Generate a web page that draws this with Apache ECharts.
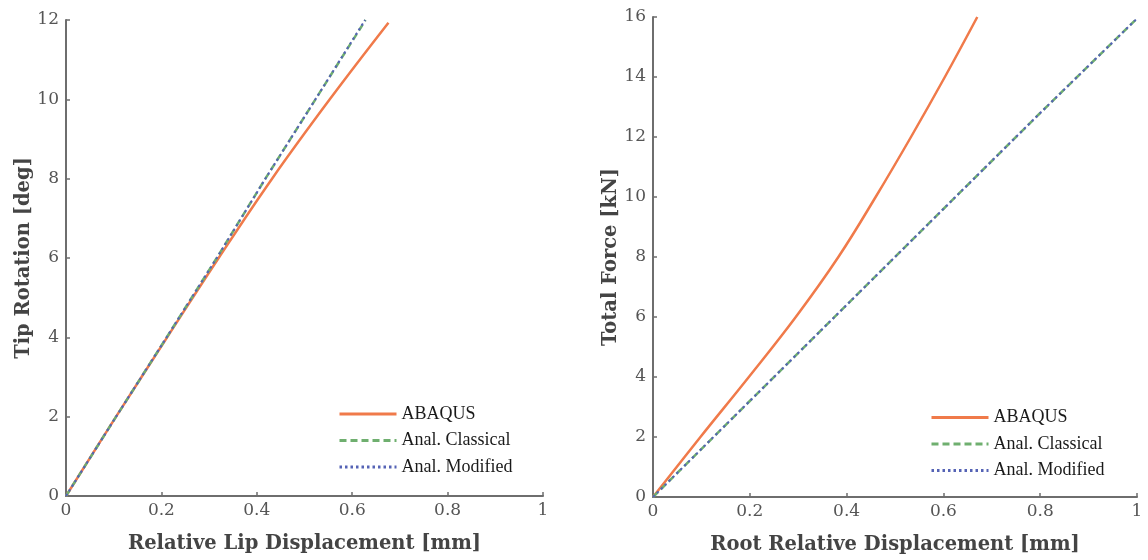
<!DOCTYPE html>
<html>
<head>
<meta charset="utf-8">
<script src="https://cdn.jsdelivr.net/npm/echarts@6/dist/echarts.min.js"></script>
<style>
  html, body { margin: 0; padding: 0; background: #fff; }
  #chart { width: 1148px; height: 560px; }
</style>
</head>
<body>
<div id="chart"></div>
<script>
// ---- Data ----
const seriesNames = ['ABAQUS', 'Anal. Classical', 'Anal. Modified'];

// Left panel: Tip Rotation [deg] vs Relative Lip Displacement [mm]
const lipAbaqusX    = [0, 0.105, 0.212, 0.320, 0.432, 0.553, 0.676];
const lipAbaqusY    = [0, 2, 4, 6, 8, 10, 11.93];
const lipClassicalX = [0, 0.105, 0.211, 0.316, 0.418, 0.523, 0.628];
const lipClassicalY = [0, 2, 4, 6, 8, 10, 12];
const lipModifiedX  = [0, 0.105, 0.211, 0.316, 0.418, 0.523, 0.627];
const lipModifiedY  = [0, 2, 4, 6, 8, 10, 12];

// Right panel: Total Force [kN] vs Root Relative Displacement [mm]
const rootAbaqusX    = [0, 0.098, 0.198, 0.295, 0.383, 0.460, 0.533, 0.603, 0.670];
const rootAbaqusY    = [0, 2, 4, 6, 8, 10, 12, 14, 16];
const rootClassicalX = [0, 0.2, 0.4, 0.6, 0.8, 1.0];
const rootClassicalY = [0, 3.2, 6.4, 9.6, 12.8, 15.95];
const rootModifiedX  = [0, 0.2, 0.4, 0.6, 0.8, 1.0];
const rootModifiedY  = [0, 3.2, 6.4, 9.6, 12.8, 15.95];

const xTitles = ['Relative Lip Displacement [mm]', 'Root Relative Displacement [mm]'];
const yTitles = ['Tip Rotation [deg]', 'Total Force [kN]'];
const yMax = [12, 16];

function pairs(xs, ys) { return xs.map((x, i) => [x, ys[i]]); }

const colors = { abaqus: '#F07A4A', classical: '#6FAF6F', modified: '#5563B5' };
const tickFont = { fontFamily: 'DejaVu Serif', fontSize: 17, color: '#555' };
const titleFont = { fontFamily: 'DejaVu Serif', fontSize: 19.5, fontWeight: 'bold', color: '#444' };
const axisLine = { show: true, lineStyle: { color: '#6e6e6e', width: 2 } };
const axisTick = { show: true, inside: true, length: 4, lineStyle: { color: '#6e6e6e', width: 1.5 } };

function xAxis(i) {
  return {
    type: 'value', gridIndex: i, min: 0, max: 1, interval: 0.2,
    axisLine, axisTick, splitLine: { show: false },
    axisLabel: Object.assign({ margin: 6 }, tickFont),
    name: xTitles[i], nameLocation: 'middle', nameGap: 38, nameTextStyle: titleFont
  };
}
function yAxis(i) {
  return {
    type: 'value', gridIndex: i, min: 0, max: yMax[i], interval: 2,
    axisLine, axisTick, splitLine: { show: false },
    axisLabel: Object.assign({ margin: 7 }, tickFont),
    name: yTitles[i], nameLocation: 'middle', nameGap: 32, nameRotate: 90, nameTextStyle: titleFont
  };
}
function lineSeries(name, data, idx, color, type, width, smooth) {
  return {
    name, type: 'line', xAxisIndex: idx, yAxisIndex: idx, data,
    symbol: 'none', smooth: smooth,
    lineStyle: { color, width, type },
    itemStyle: { color }, z: 2
  };
}

const legendCommon = {
  orient: 'vertical', itemWidth: 57, itemHeight: 14, itemGap: 8.5,
  data: seriesNames,
  itemStyle: { opacity: 0 },
  lineStyle: { width: 3 },
  textStyle: { fontFamily: 'Liberation Serif', fontSize: 18, color: '#1a1a1a' }
};

const option = {
  animation: false,
  backgroundColor: '#fff',
  grid: [
    { left: 66, right: 1148 - 543, top: 20, bottom: 64 },
    { left: 653, right: 1148 - 1137, top: 17, bottom: 62 }
  ],
  legend: [
    Object.assign({ left: 333, top: 400 }, legendCommon),
    Object.assign({ left: 925, top: 403.5 }, legendCommon)
  ],
  xAxis: [xAxis(0), xAxis(1)],
  yAxis: [yAxis(0), yAxis(1)],
  series: [
    lineSeries('ABAQUS', pairs(lipAbaqusX, lipAbaqusY), 0, colors.abaqus, 'solid', 2.5, 0.4),
    lineSeries('Anal. Classical', pairs(lipClassicalX, lipClassicalY), 0, colors.classical, [7, 4], 2.5, false),
    lineSeries('Anal. Modified', pairs(lipModifiedX, lipModifiedY), 0, colors.modified, [2.5, 3], 2, false),
    lineSeries('ABAQUS', pairs(rootAbaqusX, rootAbaqusY), 1, colors.abaqus, 'solid', 2.5, 0.4),
    lineSeries('Anal. Classical', pairs(rootClassicalX, rootClassicalY), 1, colors.classical, [7, 4], 2.5, false),
    lineSeries('Anal. Modified', pairs(rootModifiedX, rootModifiedY), 1, colors.modified, [2.5, 3], 2, false)
  ]
};

const chart = echarts.init(document.getElementById('chart'), null, { renderer: 'canvas' });
chart.setOption(option);
</script>
</body>
</html>
